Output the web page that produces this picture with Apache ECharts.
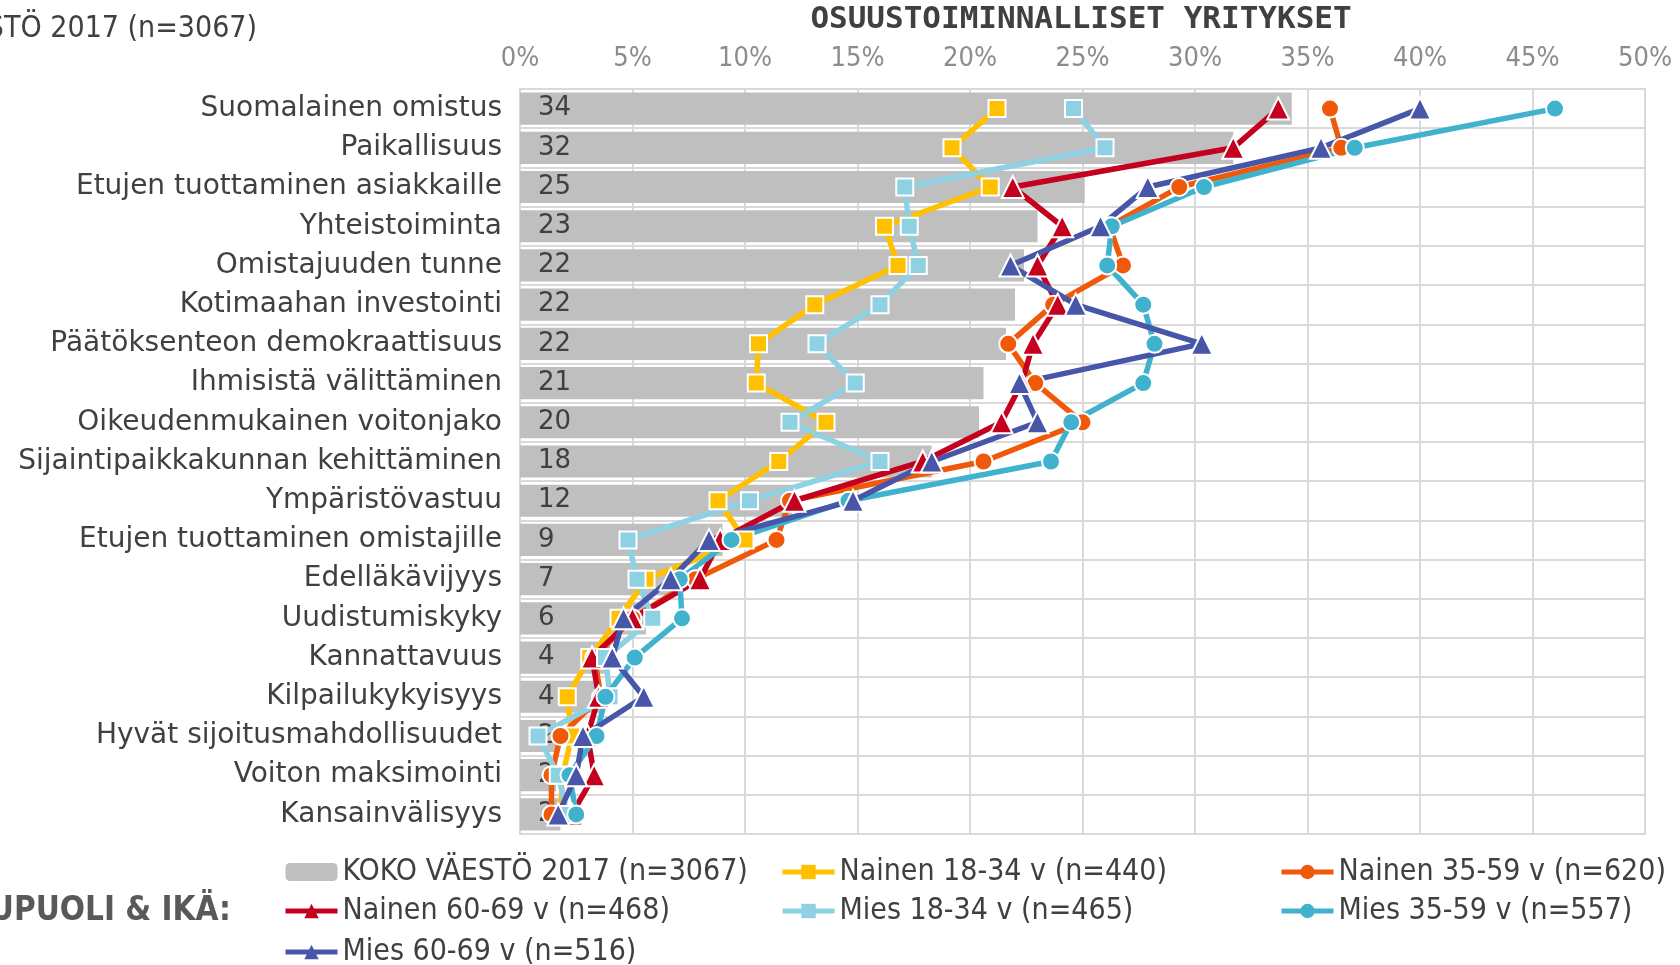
<!DOCTYPE html>
<html>
<head>
<meta charset="utf-8">
<script src="https://cdn.jsdelivr.net/npm/echarts@6/dist/echarts.min.js"></script>
<style>
  html, body { margin: 0; padding: 0; background: #fff; }
  #main { width: 1680px; height: 965px; }
</style>
</head>
<body>
<div id="main"></div>
<script>
const categories = ['Suomalainen omistus', 'Paikallisuus', 'Etujen tuottaminen asiakkaille', 'Yhteistoiminta',
  'Omistajuuden tunne', 'Kotimaahan investointi', 'Päätöksenteon demokraattisuus', 'Ihmisistä välittäminen',
  'Oikeudenmukainen voitonjako', 'Sijaintipaikkakunnan kehittäminen', 'Ympäristövastuu',
  'Etujen tuottaminen omistajille', 'Edelläkävijyys', 'Uudistumiskyky', 'Kannattavuus', 'Kilpailukykyisyys',
  'Hyvät sijoitusmahdollisuudet', 'Voiton maksimointi', 'Kansainvälisyys']
const xTicks = [0, 5, 10, 15, 20, 25, 30, 35, 40, 45, 50]

// % values
const koko = [34.3, 31.7, 25.1, 23.0, 22.4, 22.0, 21.6, 20.6, 20.4, 18.3, 12.1, 9.0, 7.2, 5.6, 4.0, 3.6, 1.6, 1.6, 1.8]
const nainen1834 = [21.2, 19.2, 20.9, 16.2, 16.8, 13.1, 10.6, 10.5, 13.6, 11.5, 8.8, 10.0, 5.6, 4.4, 3.1, 2.1, 2.3, 1.9, 1.8]
const nainen3559 = [36.0, 36.5, 29.3, 26.2, 26.8, 23.7, 21.7, 22.9, 25.0, 20.6, 12.0, 11.4, 7.8, 5.0, 3.3, 3.6, 1.8, 1.4, 1.4]
const nainen6069 = [33.7, 31.7, 21.9, 24.1, 23.0, 23.9, 22.8, 22.3, 21.4, 17.9, 12.2, 8.9, 8.0, 5.0, 3.2, 3.5, 3.0, 3.3, 2.3]
const mies1834 = [24.6, 26.0, 17.1, 17.3, 17.7, 16.0, 13.2, 14.9, 12.0, 16.0, 10.2, 4.8, 5.2, 5.9, 3.8, 4.0, 0.8, 1.7, 2.1]
const mies3559 = [46.0, 37.1, 30.4, 26.3, 26.1, 27.7, 28.2, 27.7, 24.5, 23.6, 14.6, 9.4, 7.1, 7.2, 5.1, 3.8, 3.4, 2.2, 2.5]
const mies6069 = [40.0, 35.6, 27.9, 25.8, 21.8, 24.7, 30.3, 22.2, 23.0, 18.3, 14.8, 8.4, 6.7, 4.6, 4.1, 5.5, 2.8, 2.5, 1.7]

const names = ['KOKO VÄESTÖ 2017 (n=3067)', 'Nainen 18-34 v (n=440)', 'Nainen 35-59 v (n=620)',
  'Nainen 60-69 v (n=468)', 'Mies 18-34 v (n=465)', 'Mies 35-59 v (n=557)', 'Mies 60-69 v (n=516)']

const condensed = '"DejaVu Sans Condensed", "DejaVu Sans", sans-serif'
const textColor = '#404040'

function lineSeries(name, data, color, symbol, size) {
  return {
    name: name,
    type: 'line',
    data: data,
    symbol: symbol,
    symbolSize: size,
    lineStyle: { color: color, width: 5.5 },
    itemStyle: { color: color, borderColor: '#fff', borderWidth: 2 },
    emphasis: { disabled: true }
  }
}

function legendAt(left, top, data) {
  return {
    orient: 'vertical',
    left: left,
    top: top,
    itemWidth: 52,
    itemHeight: 18,
    itemGap: 9,
    data: data,
    lineStyle: { width: 5 },
    itemStyle: { borderWidth: 0 },
    textStyle: { fontFamily: condensed, fontSize: 30, color: textColor, lineHeight: 28 }
  }
}

let mychart = echarts.init(document.getElementById('main'))
let option = {
  animation: false,
  grid: { left: 520, right: 35, top: 89, bottom: 131, show: true, borderColor: '#D9D9D9', borderWidth: 2 },
  xAxis: {
    type: 'value',
    position: 'top',
    min: xTicks[0],
    max: xTicks[xTicks.length - 1],
    interval: xTicks[1] - xTicks[0],
    axisLine: { show: false },
    axisTick: { show: false },
    axisLabel: { formatter: '{value}%', fontFamily: condensed, fontSize: 27, color: '#8C8C8C', margin: 17 },
    splitLine: { lineStyle: { color: '#D9D9D9', width: 2 } }
  },
  yAxis: {
    type: 'category',
    data: categories,
    inverse: true,
    axisLine: { show: false },
    axisTick: { show: false },
    axisLabel: { fontFamily: '"DejaVu Sans", Verdana, sans-serif', fontSize: 28, color: textColor, margin: 18 },
    splitLine: { show: true, lineStyle: { color: '#D9D9D9', width: 2 } }
  },
  legend: [
    legendAt(278, 852, [names[0], names[3]]),
    legendAt(278, 932, [names[6]]),
    legendAt(775, 852, [names[1], names[4]]),
    legendAt(1274, 852, [names[2], names[5]])
  ],
  graphic: [
    { type: 'text', x: 1081, y: 4, style: { text: 'OSUUSTOIMINNALLISET YRITYKSET', textAlign: 'center',
      font: 'bold 31px "DejaVu Sans Mono", monospace', fill: textColor } },
    { type: 'text', x: 257, y: 14, style: { text: 'KOKO VÄESTÖ 2017 (n=3067)', textAlign: 'right',
      font: '30px ' + condensed, fill: textColor } },
    { type: 'text', x: 231, y: 895, style: { text: 'SUKUPUOLI & IKÄ:', textAlign: 'right',
      font: 'bold 33px ' + condensed, fill: '#595959' } }
  ],
  series: [
    {
      name: names[0],
      type: 'bar',
      data: koko,
      barCategoryGap: '18%',
      itemStyle: { color: '#BFBFBF' },
      label: {
        show: true,
        position: 'insideLeft',
        distance: 18,
        formatter: p => Math.round(p.value),
        fontFamily: '"DejaVu Sans", sans-serif',
        fontSize: 26,
        color: textColor
      },
      emphasis: { disabled: true },
      z: 1
    },
    lineSeries(names[1], nainen1834, '#FFC000', 'rect', 17),
    lineSeries(names[2], nainen3559, '#F0580A', 'circle', 18),
    lineSeries(names[3], nainen6069, '#C4001E', 'triangle', 22),
    lineSeries(names[4], mies1834, '#8ED1E2', 'rect', 17),
    lineSeries(names[5], mies3559, '#41B2CE', 'circle', 18),
    lineSeries(names[6], mies6069, '#4756A8', 'triangle', 22)
  ]
}
mychart.setOption(option)
</script>
</body>
</html>
